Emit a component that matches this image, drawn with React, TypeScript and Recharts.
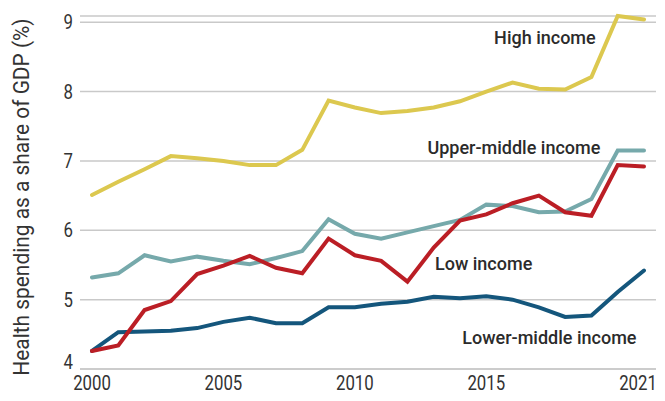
import React from "react";
import {
  LineChart,
  Line,
  XAxis,
  YAxis,
  CartesianGrid,
  ReferenceDot,
  Label,
} from "recharts";

const years = [
  2000, 2001, 2002, 2003, 2004, 2005, 2006, 2007, 2008, 2009, 2010,
  2011, 2012, 2013, 2014, 2015, 2016, 2017, 2018, 2019, 2020, 2021,
];
const highIncome = [
  6.51, 6.7, 6.88, 7.07, 7.04, 7.0, 6.94, 6.94, 7.16, 7.87, 7.77,
  7.69, 7.72, 7.77, 7.86, 8.0, 8.13, 8.04, 8.03, 8.21, 9.09, 9.04,
];
const upperMiddle = [
  5.32, 5.38, 5.64, 5.55, 5.62, 5.56, 5.51, 5.6, 5.7, 6.16, 5.95,
  5.88, 5.97, 6.06, 6.15, 6.37, 6.35, 6.26, 6.27, 6.45, 7.15, 7.15,
];
const lowIncome = [
  4.26, 4.34, 4.85, 4.98, 5.37, 5.49, 5.63, 5.46, 5.38, 5.88, 5.64,
  5.56, 5.26, 5.75, 6.14, 6.23, 6.39, 6.5, 6.26, 6.21, 6.94, 6.92,
];
const lowerMiddle = [
  4.26, 4.53, 4.54, 4.55, 4.59, 4.68, 4.74, 4.66, 4.66, 4.89, 4.89,
  4.94, 4.97, 5.04, 5.02, 5.05, 5.0, 4.89, 4.75, 4.77, 5.11, 5.42,
];
const xTicks = [2000, 2005, 2010, 2015, 2021];
const yTicks = [4, 5, 6, 7, 8, 9];

const seriesLabels = [
  { text: "High income", x: 2017.23, y: 8.78 },
  { text: "Upper-middle income", x: 2016.05, y: 7.2 },
  { text: "Low income", x: 2014.9, y: 5.52 },
  { text: "Lower-middle income", x: 2017.4, y: 4.46 },
];

const data = years.map((year, i) => ({
  year,
  high: highIncome[i],
  upper: upperMiddle[i],
  low: lowIncome[i],
  lower: lowerMiddle[i],
}));

const TICKFONT = "Roboto, 'DejaVu Sans', sans-serif";
const FONT = "Roboto, 'DejaVu Sans', sans-serif";
const GRID = "#c9c9c9";

const XTick = (props: any) => {
  const { x, y, payload } = props;
  const shift = payload.value === 2021 ? -6 : 0;
  return (
    <text
      transform={`translate(${x + shift},${y}) scale(0.8,1)`}
      textAnchor="middle"
      dy="0.72em"
      fill="#333"
      fontSize={21}
      fontFamily={TICKFONT}
    >
      {payload.value}
    </text>
  );
};

const YTick = (props: any) => {
  const { x, y, payload } = props;
  const shift = payload.value === 4 ? -7 : 0;
  return (
    <text
      transform={`translate(${x},${y + shift}) scale(0.8,1)`}
      textAnchor="end"
      dominantBaseline="central"
      fill="#333"
      fontSize={21}
      fontFamily={TICKFONT}
    >
      {payload.value}
    </text>
  );
};

export default function App() {
  return (
    <div style={{ position: "absolute", left: 0, top: 0, background: "#fff" }}>
      <LineChart
        width={665}
        height={401}
        data={data}
        margin={{ top: 16, right: 9, bottom: 2, left: 30 }}
      >
        <CartesianGrid vertical={false} stroke={GRID} strokeWidth={1.5} />
        <XAxis
          dataKey="year"
          type="number"
          domain={[2000, 2021]}
          ticks={xTicks}
          padding={{ left: 12, right: 12 }}
          tickSize={0}
          tickMargin={6}
          height={30}
          axisLine={{ stroke: GRID, strokeWidth: 1.5 }}
          tickLine={false}
          tick={<XTick />}
          interval={0}
        />
        <YAxis
          type="number"
          domain={[4, 9]}
          ticks={yTicks}
          width={50}
          tickSize={0}
          tickMargin={7}
          axisLine={false}
          tickLine={false}
          tick={<YTick />}
          interval={0}
        >
          <Label
            content={() => (
              <text
                transform="translate(21,197) rotate(-90) scale(0.95,1)"
                textAnchor="middle"
                dominantBaseline="central"
                fill="#333"
                fontSize={22}
                fontFamily={TICKFONT}
              >
                Health spending as a share of GDP (%)
              </text>
            )}
          />
        </YAxis>
        <Line
          dataKey="high"
          stroke="#DCC84F"
          strokeWidth={4}
          dot={false}
          strokeLinecap="round"
          isAnimationActive={false}
        />
        <Line
          dataKey="lower"
          stroke="#14567C"
          strokeWidth={4}
          dot={false}
          strokeLinecap="round"
          isAnimationActive={false}
        />
        <Line
          dataKey="upper"
          stroke="#76A9AB"
          strokeWidth={4}
          dot={false}
          strokeLinecap="round"
          isAnimationActive={false}
        />
        <Line
          dataKey="low"
          stroke="#BB1E25"
          strokeWidth={4}
          dot={false}
          strokeLinecap="round"
          isAnimationActive={false}
        />
        {seriesLabels.map((l) => (
          <ReferenceDot
            key={l.text}
            x={l.x}
            y={l.y}
            r={0}
            ifOverflow="visible"
            shape={(p: any) => (
              <text
                x={p.cx}
                y={p.cy}
                textAnchor="middle"
                dominantBaseline="central"
                fill="#2b2b2b"
                fontSize={18}
                fontWeight={500}
                fontFamily={FONT}
              >
                {l.text}
              </text>
            )}
          />
        ))}
      </LineChart>
    </div>
  );
}
